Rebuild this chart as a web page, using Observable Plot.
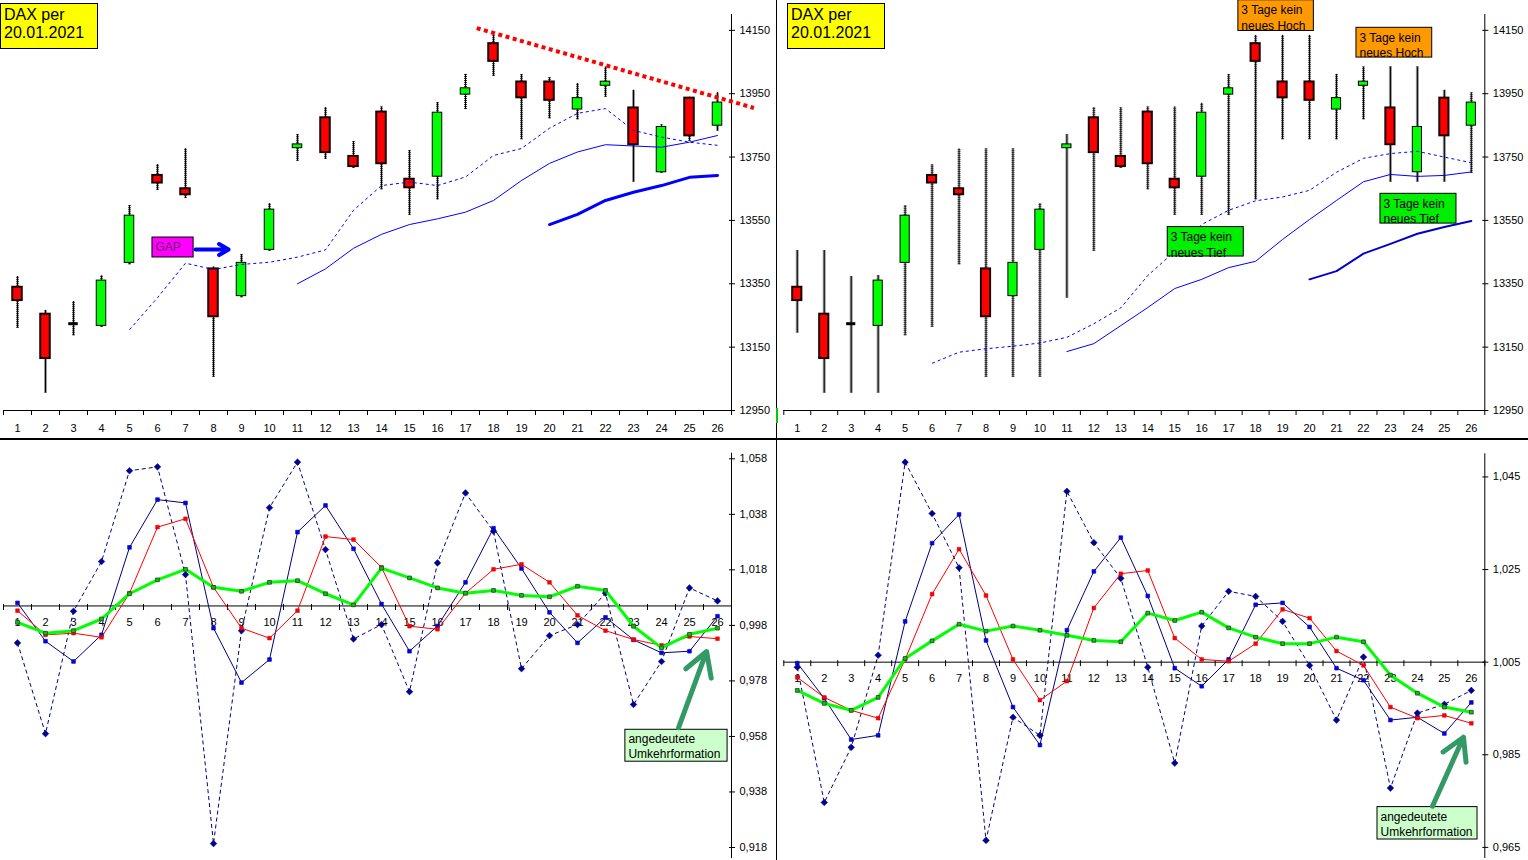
<!DOCTYPE html>
<html><head><meta charset="utf-8">
<script src="https://cdn.jsdelivr.net/npm/d3@7"></script>
<script src="https://cdn.jsdelivr.net/npm/@observablehq/plot@0.6"></script>
<style>
html,body{margin:0;padding:0;background:#fff;}
body{width:1528px;height:860px;overflow:hidden;position:relative;font-family:'Liberation Sans',Arial,sans-serif;}
.panel{position:absolute;}
.title{position:absolute;background:#ffff00;border:1px solid #000;font-size:16px;line-height:18.6px;padding:1.5px 3px;box-sizing:border-box;color:#000;}
.vline{position:absolute;left:776px;top:0;width:1px;height:860px;background:#000;}
.hline{position:absolute;left:0;top:438px;width:1528px;height:2px;background:#000;}
</style></head><body>
<div id="tl" class="panel" style="left:0;top:0"></div>
<div id="tr" class="panel" style="left:778px;top:0"></div>
<div id="bl" class="panel" style="left:0;top:440px"></div>
<div id="br" class="panel" style="left:778px;top:440px"></div>
<div class="vline"></div>
<div class="hline"></div>
<div style="position:absolute;left:776px;top:408px;width:2px;height:15px;background:#00cc00"></div>
<div class="title" style="left:0;top:3px;width:98px;height:46px">DAX per<br>20.01.2021</div>
<div class="title" style="left:787px;top:3px;width:98px;height:46px">DAX per<br>20.01.2021</div>
<script>
// ---------- data ----------
const days = [1,2,3,4,5,6,7,8,9,10,11,12,13,14,15,16,17,18,19,20,21,22,23,24,25,26];
const openV  = [13339,13254,13224,13217,13416,13692,13650,13397,13311,13457,13778,13874,13752,13892,13680,13688,13947,14108,13987,13987,13900,13975,13905,13702,13936,13849];
const closeV = [13297,13114,13224,13360,13565,13668,13631,13246,13416,13584,13790,13764,13720,13729,13653,13890,13967,14052,13937,13929,13936,13988,13789,13845,13817,13922];
const highV  = [13373,13266,13294,13375,13597,13726,13776,13403,13442,13603,13821,13906,13799,13908,13771,13922,14011,14134,14011,14000,13982,14034,13961,13852,13939,13953];
const lowV   = [13210,13005,13186,13213,13410,13645,13620,13055,13306,13453,13737,13743,13715,13647,13566,13615,13900,14005,13805,13871,13868,13939,13671,13699,13800,13832];
// 3-day range (right chart)
const high3V = [13455,13455,13373,13376,13597,13726,13776,13776,13776,13603,13821,13906,13906,13908,13908,13920,14011,14134,14134,14134,14011,14034,14034,14034,13961,13953];
const low3V  = [13195,13005,13005,13005,13186,13213,13410,13055,13055,13055,13305,13453,13715,13647,13566,13566,13566,13615,13805,13805,13805,13868,13671,13671,13671,13699];
// moving averages left chart
const maLeftDash  = [null,null,null,null,13205,13306,13415,13395,13411,13418,13434,13457,13582,13660,13671,13660,13687,13755,13777,13841,13888,13903,13834,13813,13797,13787];
const maLeftThin  = [null,null,null,null,null,null,null,null,null,null,13350,13397,13462,13506,13537,13555,13576,13613,13676,13730,13766,13789,13785,13781,13797,13818];
const maLeftThick = [null,null,null,null,null,null,null,null,null,null,null,null,null,null,null,null,null,null,null,13537,13569,13613,13639,13660,13686,13692];
// moving averages right chart
const maRightDash  = [null,null,null,null,null,13099,13134,13145,13153,13163,13181,13224,13274,13376,13452,13537,13582,13612,13624,13645,13702,13746,13761,13768,13750,13732];
const maRightThin  = [null,null,null,null,null,null,null,null,null,null,13136,13161,13218,13275,13335,13364,13401,13421,13490,13553,13613,13672,13695,13689,13692,13703];
const maRightThick = [null,null,null,null,null,null,null,null,null,null,null,null,null,null,null,null,null,null,null,13364,13390,13445,13476,13508,13529,13548];
// oscillators left
const oscLDash  = [0.9917,0.9590,1.0031,1.0210,1.0537,1.0551,1.0163,0.9194,0.9961,1.0404,1.0568,1.0253,0.9931,0.9983,0.9741,1.0205,1.0457,1.0319,0.9824,0.9943,0.9983,1.0096,0.9695,0.9850,1.0115,1.0068];
const oscLBlue  = [1.0061,0.9923,0.9850,0.9946,1.0261,1.0433,1.0421,0.9970,0.9774,0.9857,1.0316,1.0412,1.0256,1.0057,0.9887,0.9978,1.0135,1.0330,1.0185,1.0027,0.9917,1.0009,0.9928,0.9881,0.9887,1.0013];
const oscLRed   = [1.0033,0.9946,0.9952,0.9937,1.0096,1.0334,1.0364,1.0117,0.9970,0.9934,1.0033,1.0300,1.0289,1.0189,0.9977,0.9966,1.0096,1.0182,1.0200,1.0135,1.0016,0.9961,0.9929,0.9908,0.9940,0.9932];
const oscLGreen = [0.9991,0.9952,0.9961,1.0003,1.0094,1.0144,1.0182,1.0117,1.0103,1.0135,1.0141,1.0094,1.0054,1.0186,1.0151,1.0115,1.0096,1.0106,1.0088,1.0083,1.0121,1.0106,0.9977,0.9899,0.9948,0.9970];
// oscillators right
const oscRDash  = [1.0039,0.9747,0.9866,1.0065,1.0482,1.0371,1.0254,0.9665,0.9931,0.9892,1.0419,1.0308,1.0231,1.0039,0.9832,1.0128,1.0203,1.0192,1.0138,1.0043,0.9925,1.0061,0.9778,0.9940,0.9959,0.9989];
const oscRBlue  = [1.0048,0.9972,0.9883,0.9892,1.0138,1.0307,1.0369,1.0097,0.9953,0.9871,1.0119,1.0246,1.0319,1.0193,1.0037,0.9998,1.0056,1.0174,1.0178,1.0126,1.0037,1.0011,0.9925,0.9931,0.9896,0.9963];
const oscRRed   = [1.0017,0.9974,0.9946,0.9929,1.0056,1.0197,1.0294,1.0194,1.0056,0.9968,1.0009,1.0167,1.0241,1.0248,1.0102,1.0056,1.0052,1.0090,1.0164,1.0145,1.0074,1.0043,0.9953,0.9929,0.9935,0.9918];
const oscRGreen = [0.9989,0.9961,0.9946,0.9974,1.0058,1.0096,1.0132,1.0117,1.0128,1.0119,1.0108,1.0097,1.0094,1.0156,1.0140,1.0158,1.0124,1.0104,1.0090,1.0090,1.0104,1.0094,1.0022,0.9983,0.9953,0.9942];
// ticks
const priceTicks = [12950,13150,13350,13550,13750,13950,14150];
const oscTicksLeft = [0.918,0.938,0.958,0.978,0.998,1.018,1.038,1.058];
const oscTicksRight = [0.965,0.985,1.005,1.025,1.045];
const oscBase = 1.005;
// annotations (data units: day, value)
const trendDays = [17.4, 27.3];
const trendValues = [14157, 13905];
const gapBox = [{x1:5.82, x2:7.29, y1:13433, y2:13496, text:"GAP"}];
const gapArrow = [{x1:7.36, x2:8.54, y:13458}];
const hochBoxes = [{x1:17.36, x2:20.16, y1:14148, y2:14245, text:"3 Tage kein\nneues Hoch"},
                   {x1:21.74, x2:24.55, y1:14064, y2:14158, text:"3 Tage kein\nneues Hoch"}];
const tiefBoxes = [{x1:14.74, x2:17.56, y1:13436, y2:13529, text:"3 Tage kein\nneues Tief"},
                   {x1:22.63, x2:25.45, y1:13540, y2:13634, text:"3 Tage kein\nneues Tief"}];
const umkehrLeft = [{x1:22.71, x2:26.36, y1:0.9489, y2:0.9604, text:"angedeutete\nUmkehrformation"}];
const umkehrLeftArrow = [{x1:24.61, y1:0.9612, x2:25.61, y2:0.9886}];
const umkehrRight = [{x1:22.52, x2:26.23, y1:0.9667, y2:0.9737, text:"angedeutete\nUmkehrformation"}];
const umkehrRightArrow = [{x1:24.56, y1:0.9739, x2:25.71, y2:0.9888}];

// ---------- helpers ----------
const FONT = "'Liberation Sans', Arial, sans-serif";
const bounds = [0.5].concat(days.map(d => d + 0.5));
const HALF = 0.17;

function candleMarks(rows) {
  const up = rows.filter(d => d.close > d.open);
  const dn = rows.filter(d => d.close < d.open);
  const eq = rows.filter(d => d.close === d.open);
  return [
    Plot.ruleX(rows, {x: "day", y1: "low", y2: "high", stroke: "#000", strokeWidth: 1}),
    Plot.ruleX(rows, {x: "day", y1: "low", y2: "high", stroke: "#000", strokeWidth: 3, strokeDasharray: "1,1", strokeOpacity: 0.8, strokeLinecap: "butt"}),
    Plot.rect(dn, {x1: d => d.day - HALF, x2: d => d.day + HALF, y1: "open", y2: "close", fill: "#ff0000", stroke: "#1a0000", strokeWidth: 2}),
    Plot.rect(up, {x1: d => d.day - HALF, x2: d => d.day + HALF, y1: "open", y2: "close", fill: "#00ff00", stroke: "#000", strokeWidth: 1}),
    Plot.ruleY(eq, {y: "open", x1: d => d.day - HALF, x2: d => d.day + HALF, stroke: "#000", strokeWidth: 3})
  ];
}

function priceAxes() {
  return [
    Plot.ruleY([12950], {stroke: "#000"}),
    Plot.ruleX([26.5], {stroke: "#000"}),
    Plot.axisY({anchor: "right", ticks: priceTicks, tickSize: 6, dx: -3, tickPadding: 5, tickFormat: d => String(d), fontSize: 11, label: null}),
    Plot.axisX({anchor: "bottom", ticks: bounds, tickSize: 5, tickFormat: () => "", label: null}),
    Plot.axisX({anchor: "bottom", ticks: days, tickSize: 0, tickPadding: 14, tickFormat: d => String(d), fontSize: 11, label: null})
  ];
}

function boxMarks(boxes, fill, lh) {
  return [
    Plot.rect(boxes, {x1: "x1", x2: "x2", y1: "y1", y2: "y2", fill: fill, stroke: "#000", strokeWidth: 1}),
    Plot.text(boxes, {x: "x1", y: "y2", text: "text", textAnchor: "start", lineAnchor: "top", dx: 3, dy: 3, fontSize: 12, lineHeight: lh, fill: "#000"})
  ];
}

function pricePanel(cfg) {
  const rows = days.map((d, i) => ({day: d, open: openV[i], close: closeV[i], high: cfg.hi[i], low: cfg.lo[i],
    m1: cfg.ma1[i], m2: cfg.ma2[i], m3: cfg.ma3[i]}));
  return Plot.plot({
    width: cfg.width, height: 438,
    marginLeft: cfg.ml, marginRight: cfg.mr, marginTop: 14, marginBottom: 28,
    x: {type: "linear", domain: [0.5, 26.5]},
    y: {type: "linear", domain: [12950, 14200], label: null},
    style: {fontFamily: FONT, fontSize: "11px", color: "#000", background: "transparent", overflow: "visible"},
    marks: [
      ...priceAxes(),
      ...candleMarks(rows),
      Plot.line(rows, {x: "day", y: "m1", stroke: "#0000ff", strokeWidth: 1, strokeDasharray: "3,3", strokeLinecap: "butt"}),
      Plot.line(rows, {x: "day", y: "m2", stroke: "#0000ff", strokeWidth: 1}),
      Plot.line(rows, {x: "day", y: "m3", stroke: cfg.m3color, strokeWidth: cfg.m3width}),
      ...cfg.extra
    ]
  });
}

function oscPanel(cfg) {
  const rows = days.map((d, i) => ({day: d, dash: cfg.dash[i], blue: cfg.blue[i], red: cfg.red[i], green: cfg.green[i]}));
  const tickSym = {draw(c) { c.moveTo(0, -2); c.lineTo(0, 4); }};
  const fmt = d => d.toFixed(3).replace(".", ",");
  return Plot.plot({
    width: cfg.width, height: 420,
    marginLeft: cfg.ml, marginRight: cfg.mr, marginTop: cfg.mt, marginBottom: cfg.mb,
    x: {type: "linear", domain: [0.5, 26.5]},
    y: {type: "linear", domain: cfg.ydomain, label: null},
    style: {fontFamily: FONT, fontSize: "11px", color: "#000", background: "transparent", overflow: "visible"},
    marks: [
      Plot.ruleX([26.5], {stroke: "#000"}),
      Plot.axisY({anchor: "right", ticks: cfg.ticks, tickSize: 6, dx: -3, tickPadding: 5, tickFormat: fmt, fontSize: 11, label: null}),
      Plot.axisX({anchor: "bottom", ticks: [], tickSize: 0, label: null}),
      Plot.ruleY([oscBase], {stroke: "#000"}),
      Plot.dot(bounds, {x: d => d, y: () => oscBase, symbol: tickSym, stroke: "#000", fill: "none", strokeWidth: 1}),
      Plot.text(days, {x: d => d, y: () => oscBase, dy: 16.5, text: d => String(d), fontSize: 11, fill: "#000"}),
      Plot.line(rows, {x: "day", y: "dash", stroke: "#000080", strokeWidth: 1, strokeDasharray: "4,3", strokeLinecap: "butt"}),
      Plot.dot(rows, {x: "day", y: "dash", symbol: "diamond2", r: 3, fill: "#000099", stroke: "#000066", strokeWidth: 0.5}),
      Plot.line(rows, {x: "day", y: "blue", stroke: "#000080", strokeWidth: 1}),
      Plot.dot(rows, {x: "day", y: "blue", symbol: "square", r: 2.1, fill: "#0000ff", stroke: "#000080", strokeWidth: 0.6}),
      Plot.line(rows, {x: "day", y: "red", stroke: "#ff0000", strokeWidth: 1}),
      Plot.dot(rows, {x: "day", y: "red", symbol: "square", r: 2.1, fill: "#ff0000", stroke: "#cc0000", strokeWidth: 0.5}),
      Plot.line(rows, {x: "day", y: "green", stroke: "#00ff00", strokeWidth: 3}),
      Plot.dot(rows, {x: "day", y: "green", symbol: "square", r: 2.1, fill: "#33aa33", stroke: "#005500", strokeWidth: 0.8}),
      ...cfg.extra
    ]
  });
}

// ---------- charts ----------
const trend = trendDays.map((d, i) => ({day: d, value: trendValues[i]}));

const topLeft = pricePanel({
  width: 776, ml: 3, mr: 45, hi: highV, lo: lowV,
  ma1: maLeftDash, ma2: maLeftThin, ma3: maLeftThick, m3color: "#0000ff", m3width: 3,
  extra: [
    Plot.line(trend, {x: "day", y: "value", stroke: "#ff0000", strokeWidth: 4, strokeDasharray: "4,3.5", strokeLinecap: "butt"}),
    Plot.rect(gapBox, {x1: "x1", x2: "x2", y1: "y1", y2: "y2", fill: "#ff00ff", stroke: "#000", strokeWidth: 1}),
    Plot.text(gapBox, {x: "x1", y: d => (d.y1 + d.y2) / 2, text: "text", textAnchor: "start", dx: 3, fontSize: 12, fill: "#6a1a6a"}),
    Plot.arrow(gapArrow, {x1: "x1", x2: "x2", y1: "y", y2: "y", stroke: "#0000ff", strokeWidth: 4, headLength: 9})
  ]
});
document.getElementById("tl").appendChild(topLeft);

const topRight = pricePanel({
  width: 750, ml: 5.3, mr: 43.7, hi: high3V, lo: low3V,
  ma1: maRightDash, ma2: maRightThin, ma3: maRightThick, m3color: "#0000cc", m3width: 2,
  extra: [
    ...boxMarks(hochBoxes, "#ff9900", 1.3),
    ...boxMarks(tiefBoxes, "#00ee00", 1.3)
  ]
});
document.getElementById("tr").appendChild(topRight);

const botLeft = oscPanel({
  width: 776, ml: 3, mr: 45, mt: 12.75, mb: 1.9, ydomain: [0.914, 1.060], ticks: oscTicksLeft,
  dash: oscLDash, blue: oscLBlue, red: oscLRed, green: oscLGreen,
  extra: [
    ...boxMarks(umkehrLeft, "#ccffcc", 1.25),
    Plot.arrow(umkehrLeftArrow, {x1: "x1", y1: "y1", x2: "x2", y2: "y2", stroke: "#339966", strokeWidth: 5, headLength: 12})
  ]
});
document.getElementById("bl").appendChild(botLeft);

const botRight = oscPanel({
  width: 750, ml: 5.3, mr: 43.7, mt: 13.3, mb: 2, ydomain: [0.9626, 1.050], ticks: oscTicksRight,
  dash: oscRDash, blue: oscRBlue, red: oscRRed, green: oscRGreen,
  extra: [
    ...boxMarks(umkehrRight, "#ccffcc", 1.25),
    Plot.arrow(umkehrRightArrow, {x1: "x1", y1: "y1", x2: "x2", y2: "y2", stroke: "#339966", strokeWidth: 5, headLength: 12})
  ]
});
document.getElementById("br").appendChild(botRight);
</script>
</body></html>
